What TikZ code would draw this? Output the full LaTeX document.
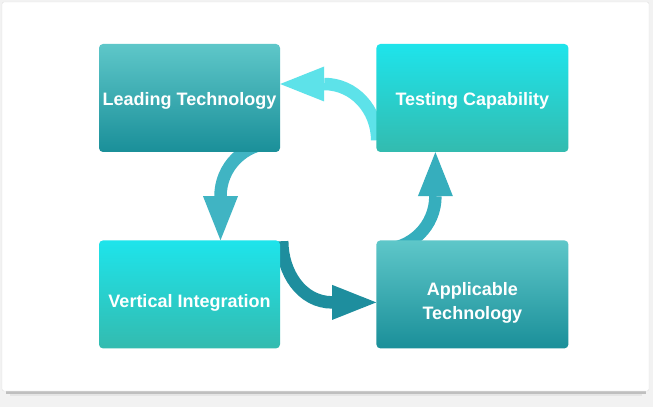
\documentclass[tikz,border=0pt]{standalone}
\usepackage{fontspec}
\setmainfont{Liberation Sans}
\usetikzlibrary{positioning,arrows.meta,backgrounds}
\definecolor{tealtop}{HTML}{5EC7C9}
\definecolor{tealbot}{HTML}{1A8F99}
\definecolor{cyantop}{HTML}{1EE4EB}
\definecolor{cyanbot}{HTML}{33BBAF}
\definecolor{arrowa}{HTML}{5DE2E9}
\definecolor{arrowb}{HTML}{40B4C3}
\definecolor{arrowc}{HTML}{1E8E9E}
\definecolor{arrowd}{HTML}{36AEBD}

\begin{document}
\begin{tikzpicture}[
  x=1pt,y=1pt,
  every node/.style={rounded corners=4pt,minimum height=108pt,inner sep=0pt,
    text=white,font=\fontsize{18}{24}\selectfont\bfseries,text depth=0pt},
  darkbox/.style={top color=tealtop,bottom color=tealbot},
  lightbox/.style={top color=cyantop,bottom color=cyanbot},
  turn/.style={line width=12.5pt,shorten >=-44pt,
    -{Triangle[width=35pt,length=44pt,line width=0pt]}},
  ]
  \useasboundingbox (0,0) rectangle (653,407);
  \node[darkbox,minimum width=181pt,text height=16pt] (lead) at (189.5,309) {Leading Technology};
  \node[lightbox,minimum width=192pt,text height=16pt,right=96pt of lead] (test) {Testing Capability};
  \node[lightbox,minimum width=181pt,text height=26pt,below=88pt of lead] (vert) {Vertical Integration};
  \node[darkbox,minimum width=192pt,text height=50.6pt,align=center,below=88pt of test] (appl) {Applicable\\Technology};
  \begin{scope}[on background layer]
    % card
    \fill[gray!10] (0,0) rectangle (653,407);
    \fill[black!25] (6,13.5) rectangle (646,16);
    \fill[black!10] (10,11) rectangle (642,13.5);
    \filldraw[draw=black!12,fill=white,rounded corners=2pt] (2,16) rectangle (649,405);
    % the cycle
    \draw[turn,arrowa] ([xshift=1pt,yshift=12pt]test.south west) to[out=90,in=0] ([xshift=44pt,yshift=14pt]lead.east);
    \draw[turn,arrowb] ([xshift=84pt,yshift=9pt]lead.south) to[out=180,in=90] ([xshift=31pt,yshift=44pt]vert.north);
    \draw[turn,arrowc] ([xshift=2pt,yshift=-1pt]vert.north east) to[out=-90,in=180] ([xshift=-44pt,yshift=-8pt]appl.west);
    \draw[turn,arrowd] ([xshift=-90pt,yshift=-9pt]appl.north) to[out=0,in=-90] ([xshift=-37pt,yshift=-44pt]test.south);
  \end{scope}
\end{tikzpicture}
\end{document}
